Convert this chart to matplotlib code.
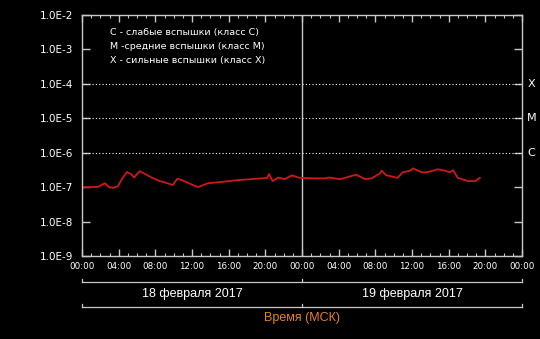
import matplotlib
matplotlib.use("Agg")
import matplotlib.pyplot as plt
from matplotlib.lines import Line2D
from matplotlib.transforms import blended_transform_factory
import numpy as np

# ---- data ----
hours = [0, 0.87, 1.75, 2.5, 2.95, 3.4, 3.9, 4.4, 4.9, 5.35, 5.7, 6.0, 6.3, 6.9,
         7.6, 8.5, 9.3, 9.9, 10.4, 10.9, 11.8, 12.65, 13.75, 15.05, 17.0, 18.3,
         20.2, 20.4, 20.8, 21.4, 22.1, 22.9, 23.6, 24.0, 25.4, 26.5, 27.05, 28.15,
         29.9, 30.9, 31.6, 32.5, 32.7, 33.2, 33.6, 34.4, 35.0, 35.8, 36.1, 36.7,
         37.1, 37.6, 38.3, 38.8, 39.6, 40.1, 40.5, 41.0, 42.1, 42.9, 43.4]
flux = [1.0e-7, 1.0e-7, 1.02e-7, 1.3e-7, 1.0e-7, 0.95e-7, 1.05e-7, 1.8e-7, 2.75e-7,
        2.4e-7, 1.9e-7, 2.4e-7, 2.9e-7, 2.4e-7, 1.9e-7, 1.5e-7, 1.3e-7, 1.15e-7,
        1.75e-7, 1.6e-7, 1.25e-7, 1.0e-7, 1.3e-7, 1.4e-7, 1.6e-7, 1.7e-7, 1.85e-7,
        2.4e-7, 1.5e-7, 1.9e-7, 1.7e-7, 2.2e-7, 1.9e-7, 1.85e-7, 1.8e-7, 1.8e-7,
        1.9e-7, 1.7e-7, 2.3e-7, 1.7e-7, 1.8e-7, 2.5e-7, 3.0e-7, 2.2e-7, 2.1e-7,
        1.85e-7, 2.7e-7, 3.0e-7, 3.5e-7, 3.0e-7, 2.7e-7, 2.7e-7, 3.0e-7, 3.3e-7,
        3.0e-7, 2.7e-7, 3.1e-7, 1.85e-7, 1.5e-7, 1.5e-7, 1.85e-7]
ytick_vals = [1e-9, 1e-8, 1e-7, 1e-6, 1e-5, 1e-4, 1e-3, 1e-2]
ytick_labels = ["1.0E-9", "1.0E-8", "1.0E-7", "1.0E-6", "1.0E-5", "1.0E-4", "1.0E-3", "1.0E-2"]
class_levels = [1e-6, 1e-5, 1e-4]
class_names = ["C", "M", "X"]
legend_lines = ["C - слабые вспышки (класс С)",
                "М -средние вспышки (класс М)",
                "X - сильные вспышки (класс X)"]
day_labels = ["18 февраля 2017", "19 февраля 2017"]
xlabel = "Время (МСК)"

fg = "#c8c8c8"
fig = plt.figure(figsize=(5.4, 3.39), dpi=100, facecolor="black")
ax = fig.add_axes([82/540, 1-256/339, 440/540, 241/339])
ax.set_facecolor("black")
ax.set_yscale("log")
ax.set_ylim(1e-9, 1e-2)
ax.set_xlim(0, 48)

for s in ax.spines.values():
    s.set_color(fg)
    s.set_linewidth(1.0)

ax.set_yticks(ytick_vals)
ax.set_yticklabels(ytick_labels)
ax.yaxis.set_minor_locator(matplotlib.ticker.NullLocator())
ax.tick_params(axis="y", which="major", direction="in", length=6, width=1,
               colors=fg, labelsize=7.5, right=True, pad=6, labelcolor="white")

xt = np.arange(0, 49, 4)
ax.set_xticks(xt)
ax.set_xticklabels([f"{int(h % 24):02d}:00" for h in xt])
ax.set_xticks(np.arange(0, 49, 1), minor=True)
ax.tick_params(axis="x", which="major", direction="in", length=5, width=1,
               colors=fg, labelsize=6.3, top=True, pad=4, labelcolor="white")
ax.tick_params(axis="x", which="minor", direction="in", length=2.5, width=0.8,
               colors=fg, top=True)

for lv in class_levels:
    ax.axhline(lv, color="white", linestyle=(0, (1, 2)), linewidth=0.8)
for lv, nm in zip(class_levels, class_names):
    ax.text(1.012, lv, nm, transform=blended_transform_factory(ax.transAxes, ax.transData),
            color="white", fontsize=8, va="center", ha="left")

ax.axvline(24, color=fg, linewidth=1.0)

ax.plot(hours, flux, color="#d01818", linewidth=1.3)

for i, t in enumerate(legend_lines):
    ax.text(110/540, 1-(32+i*14.5)/339, t, transform=fig.transFigure, color="white",
            fontsize=6.8, va="center", ha="left")

tr = blended_transform_factory(ax.transData, fig.transFigure)
for ypix in (282, 307):
    yf = 1 - ypix/339
    fig.add_artist(Line2D([0, 48], [yf, yf], transform=tr, color=fg, linewidth=0.9))
    for xv in (0, 24, 48):
        fig.add_artist(Line2D([xv, xv], [yf, yf + 3/339], transform=tr, color=fg, linewidth=0.9))

for i, t in enumerate(day_labels):
    fig.text(12 + 24*i, 1-294/339, t, transform=tr, color="white", fontsize=9,
             family="Liberation Sans", ha="center", va="center")
fig.text(24, 1-318/339, xlabel, transform=tr, color="#e8801e", fontsize=9,
         family="Liberation Sans", ha="center", va="center")

fig.savefig("out.png", dpi=100, facecolor="black")
